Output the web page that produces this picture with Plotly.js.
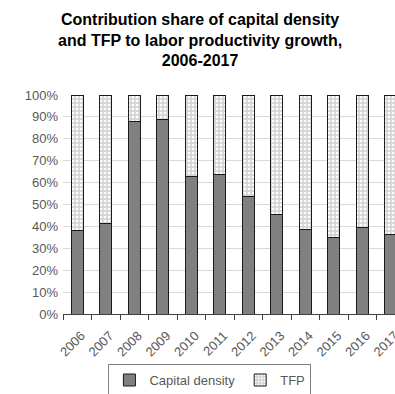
<!DOCTYPE html>
<html><head><meta charset="utf-8">
<script src="https://cdn.plot.ly/plotly-3.0.1.min.js"></script>
<style>html,body{margin:0;padding:0;overflow:hidden;background:#fff}</style>
</head><body><div id="chart"></div>
<script>
const years = ['2006','2007','2008','2009','2010','2011','2012','2013','2014','2015','2016','2017'];
const capitalDensity = [38, 41.5, 88, 89, 63, 63.5, 53.5, 45.5, 38.5, 35, 39.5, 36.5];
const tfp = [62, 58.5, 12, 11, 37, 36.5, 46.5, 54.5, 61.5, 65, 60.5, 63.5];
const yTicks = [0,10,20,30,40,50,60,70,80,90,100];
const yTickText = yTicks.map(v => v + '%');

const font = 'Liberation Sans, Arial, sans-serif';
const data = [
  {type:'bar', name:'Capital density', x:years, y:capitalDensity,
   marker:{color:'#808080', line:{color:'#1a1a1a', width:1}}},
  {type:'bar', name:'TFP', x:years, y:tfp,
   marker:{color:'#d9d9d9', line:{color:'#1a1a1a', width:1},
     pattern:{shape:'.', bgcolor:'#d4d4d4', fgcolor:'#ffffff', size:4, solidity:0.35}}}
];
const layout = {
  width:410, height:394,
  margin:{l:63, r:5, t:95, b:80, autoexpand:false},
  paper_bgcolor:'#fff', plot_bgcolor:'#fff',
  barmode:'stack', bargap:0.58,
  title:{text:'<b>Contribution share of capital density<br>and TFP to labor productivity growth,<br>2006-2017</b>',
    font:{family:font, size:16, color:'#000'}, x:0.488, xref:'container', xanchor:'center',
    yref:'container', y:0.937, yanchor:'middle'},
  xaxis:{type:'category', tickangle:-45, tickson:'boundaries', ticks:'outside', ticklen:5,
    tickcolor:'#404040', showline:true, linecolor:'#404040', linewidth:1, automargin:false,
    ticklabelstandoff:8, ticklabelshift:4,
    tickfont:{family:font, size:13, color:'#595959'}, showgrid:false},
  yaxis:{range:[0,100], tickvals:yTicks, ticktext:yTickText, showgrid:true, gridcolor:'#d9d9d9',
    zeroline:false, showline:false, ticks:'', automargin:false, ticklabelstandoff:4,
    tickfont:{family:font, size:13, color:'#595959'}},
  legend:{orientation:'h', xref:'container', x:0.512, xanchor:'center', yref:'container', y:0.076, yanchor:'top',
    bordercolor:'#808080', borderwidth:1, font:{family:font, size:13, color:'#595959'},
    itemwidth:30, traceorder:'normal'},
  showlegend:true
};
Plotly.newPlot('chart', data, layout, {displayModeBar:false, staticPlot:true});
</script></body></html>
